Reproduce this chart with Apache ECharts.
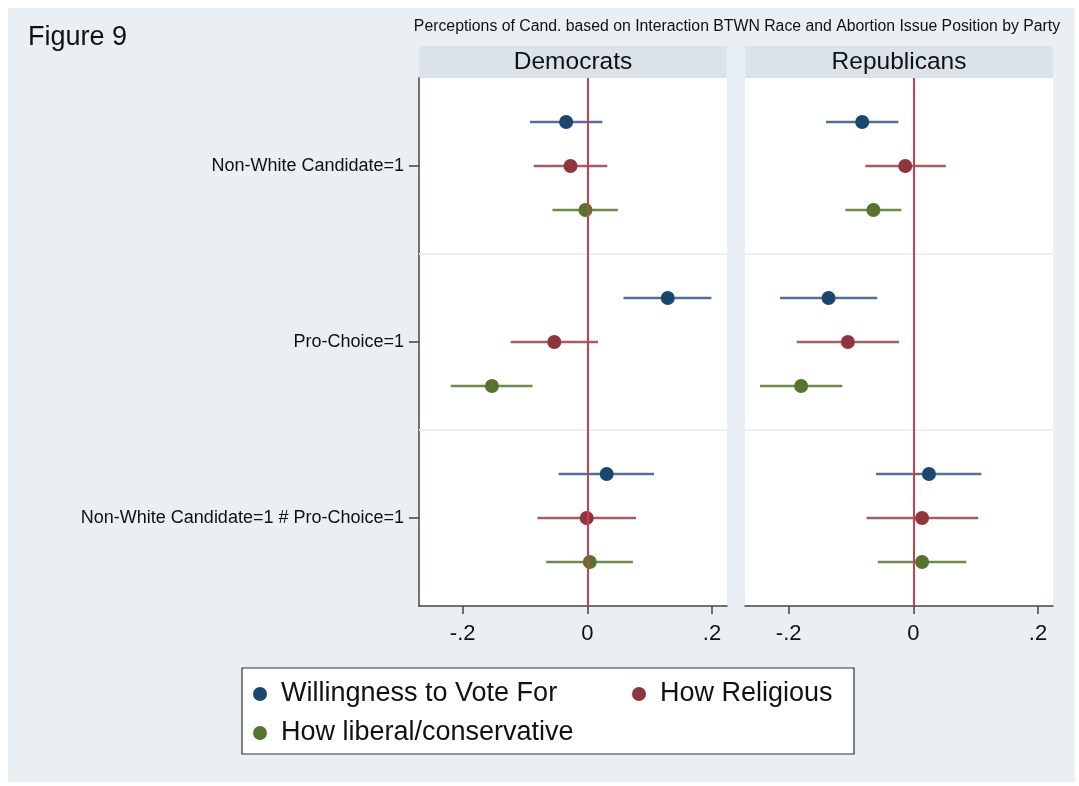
<!DOCTYPE html>
<html>
<head>
<meta charset="utf-8">
<script src="https://cdn.jsdelivr.net/npm/echarts@6/dist/echarts.min.js"></script>
<style>html,body{margin:0;padding:0;background:#fff;}#c{width:1079px;height:786px;}</style>
</head>
<body>
<div id="c"></div>
<script>
// ---- data ----
var categories = ['Non-White Candidate=1', 'Pro-Choice=1', 'Non-White Candidate=1 # Pro-Choice=1'];
var outcomes = ['Willingness to Vote For', 'How Religious', 'How liberal/conservative'];
var panels = ['Democrats', 'Republicans'];
var xTicks = [-0.2, 0, 0.2];
var xTickLabels = ['-.2', '0', '.2'];

// Democrats: estimates and CI bounds per outcome, per category
var demVoteEst = [-0.034, 0.129, 0.031];
var demVoteLo  = [-0.092, 0.058, -0.046];
var demVoteHi  = [0.024, 0.199, 0.107];
var demReligEst = [-0.027, -0.053, -0.001];
var demReligLo  = [-0.086, -0.123, -0.080];
var demReligHi  = [0.032, 0.017, 0.078];
var demLibEst = [-0.003, -0.153, 0.004];
var demLibLo  = [-0.056, -0.219, -0.066];
var demLibHi  = [0.049, -0.088, 0.073];

// Republicans
var repVoteEst = [-0.082, -0.136, 0.025];
var repVoteLo  = [-0.140, -0.214, -0.060];
var repVoteHi  = [-0.024, -0.058, 0.109];
var repReligEst = [-0.013, -0.105, 0.014];
var repReligLo  = [-0.077, -0.187, -0.075];
var repReligHi  = [0.052, -0.023, 0.104];
var repLibEst = [-0.064, -0.180, 0.014];
var repLibLo  = [-0.109, -0.246, -0.057];
var repLibHi  = [-0.019, -0.114, 0.085];

var panelData = [
  [[demVoteEst, demVoteLo, demVoteHi], [demReligEst, demReligLo, demReligHi], [demLibEst, demLibLo, demLibHi]],
  [[repVoteEst, repVoteLo, repVoteHi], [repReligEst, repReligLo, repReligHi], [repLibEst, repLibLo, repLibHi]]
];

// ---- style ----
var colors = ['#1a476f', '#90353b', '#55752f'];
var ciColors = ['#4f7196', '#a65c62', '#6f8a4e'];
var FONT = 'Liberation Sans, Arial, Helvetica, sans-serif';
var bg = '#e9eff2';
var strip = '#dae3e9';

var gridLefts = [419, 745];
var gridW = 308, gridTop = 78, gridH = 528;

function rowPos(g, k) { return 4 * g + k + 1; }

var grids = [], xAxes = [], yAxes = [], series = [];
for (var p = 0; p < 2; p++) {
  grids.push({left: gridLefts[p], top: gridTop, width: gridW, height: gridH, show: true, backgroundColor: '#ffffff', borderWidth: 0, containLabel: false});
  xAxes.push({
    type: 'value', gridIndex: p, min: -0.27, max: 0.224,
    axisLine: {show: true, onZero: false, lineStyle: {color: '#444', width: 1.5}},
    axisTick: {show: true, customValues: xTicks, length: 8, lineStyle: {color: '#444', width: 1.5}},
    axisLabel: {show: true, customValues: xTicks, margin: 17, fontSize: 22, color: '#111', fontFamily: FONT,
      formatter: function (v) { var i = xTicks.indexOf(Math.round(v * 10) / 10); return i >= 0 ? xTickLabels[i] : ''; }},
    splitLine: {show: false}
  });
  yAxes.push({
    type: 'value', gridIndex: p, min: 0, max: 12, inverse: true,
    axisLine: {show: p === 0, onZero: false, lineStyle: {color: '#444', width: 1.5}},
    axisTick: {show: p === 0, customValues: [2, 6, 10], length: 10, lineStyle: {color: '#444', width: 1.5}},
    axisLabel: {show: p === 0, customValues: [2, 6, 10], margin: 15, fontSize: 18, color: '#111', fontFamily: FONT,
      formatter: function (v) { var i = Math.round((v - 2) / 4); return categories[i] || ''; }},
    splitLine: {show: false}
  });
  // separators
  series.push({type: 'scatter', xAxisIndex: p, yAxisIndex: p, data: [], z: 1, silent: true,
    markLine: {silent: true, symbol: 'none', label: {show: false}, lineStyle: {color: bg, width: 2, type: 'solid'},
      data: [{yAxis: 4}, {yAxis: 8}], animation: false}});
  for (var k = 0; k < 3; k++) {
    var d = panelData[p][k];
    var ciData = [], estData = [];
    for (var g = 0; g < 3; g++) {
      ciData.push([d[1][g], d[2][g], rowPos(g, k)]);
      estData.push([d[0][g], rowPos(g, k)]);
    }
    series.push({
      type: 'custom', name: 'ci' + p + k, xAxisIndex: p, yAxisIndex: p, z: 2, silent: true,
      data: ciData,
      encode: {x: [0, 1], y: 2},
      renderItem: (function (col) {
        return function (params, api) {
          var a = api.coord([api.value(0), api.value(2)]);
          var b = api.coord([api.value(1), api.value(2)]);
          return {type: 'line', shape: {x1: a[0], y1: a[1], x2: b[0], y2: b[1]}, style: {stroke: col, lineWidth: 2.5}};
        };
      })(ciColors[k])
    });
    series.push({
      type: 'scatter', name: outcomes[k], xAxisIndex: p, yAxisIndex: p, z: 4,
      data: estData, symbol: 'circle', symbolSize: 14,
      itemStyle: {color: colors[k], opacity: 1}
    });
  }
  // zero line
  series.push({type: 'scatter', xAxisIndex: p, yAxisIndex: p, data: [], z: 3, silent: true,
    markLine: {silent: true, symbol: 'none', label: {show: false}, lineStyle: {color: '#c8404e', width: 2, type: 'solid'},
      data: [{xAxis: 0}], animation: false}});
}

var graphic = [
  {type: 'rect', z: -10, shape: {x: 8, y: 8, width: 1067, height: 774}, style: {fill: bg}},
  {type: 'text', z: 10, style: {x: 28, y: 38, text: 'Figure 9', fontSize: 27, fontFamily: FONT, fill: '#111', textVerticalAlign: 'middle'}},
  {type: 'text', z: 10, style: {x: 737, y: 27, text: 'Perceptions of Cand. based on Interaction BTWN Race and Abortion Issue Position by Party', fontSize: 15.8, fontFamily: FONT, fill: '#111', textAlign: 'center', textVerticalAlign: 'middle'}},
  {type: 'rect', z: 10, shape: {x: 242, y: 668, width: 612, height: 86}, style: {fill: '#fff', stroke: '#333', lineWidth: 1.2}}
];
for (var q = 0; q < 2; q++) {
  graphic.push({type: 'rect', z: -5, shape: {x: gridLefts[q], y: 46, width: gridW, height: 32}, style: {fill: strip}});
  graphic.push({type: 'text', z: 10, style: {x: gridLefts[q] + gridW / 2, y: 62, text: panels[q], fontSize: 24.5, fontFamily: FONT, fill: '#111', textAlign: 'center', textVerticalAlign: 'middle'}});
}

var chart = echarts.init(document.getElementById('c'), null, {renderer: 'canvas'});
chart.setOption({
  animation: false,
  backgroundColor: '#ffffff',
  grid: grids, xAxis: xAxes, yAxis: yAxes, series: series,
  graphic: graphic,
  legend: {
    data: outcomes, left: 253, top: 680, width: 760, padding: 0, z: 20,
    icon: 'circle', itemWidth: 14, itemHeight: 14, itemGap: 11,
    selectedMode: false,
    textStyle: {fontSize: 27, fontFamily: FONT, color: '#111', width: 340, lineHeight: 28, padding: [0, 0, 0, 9]}
  }
});
</script>
</body>
</html>
